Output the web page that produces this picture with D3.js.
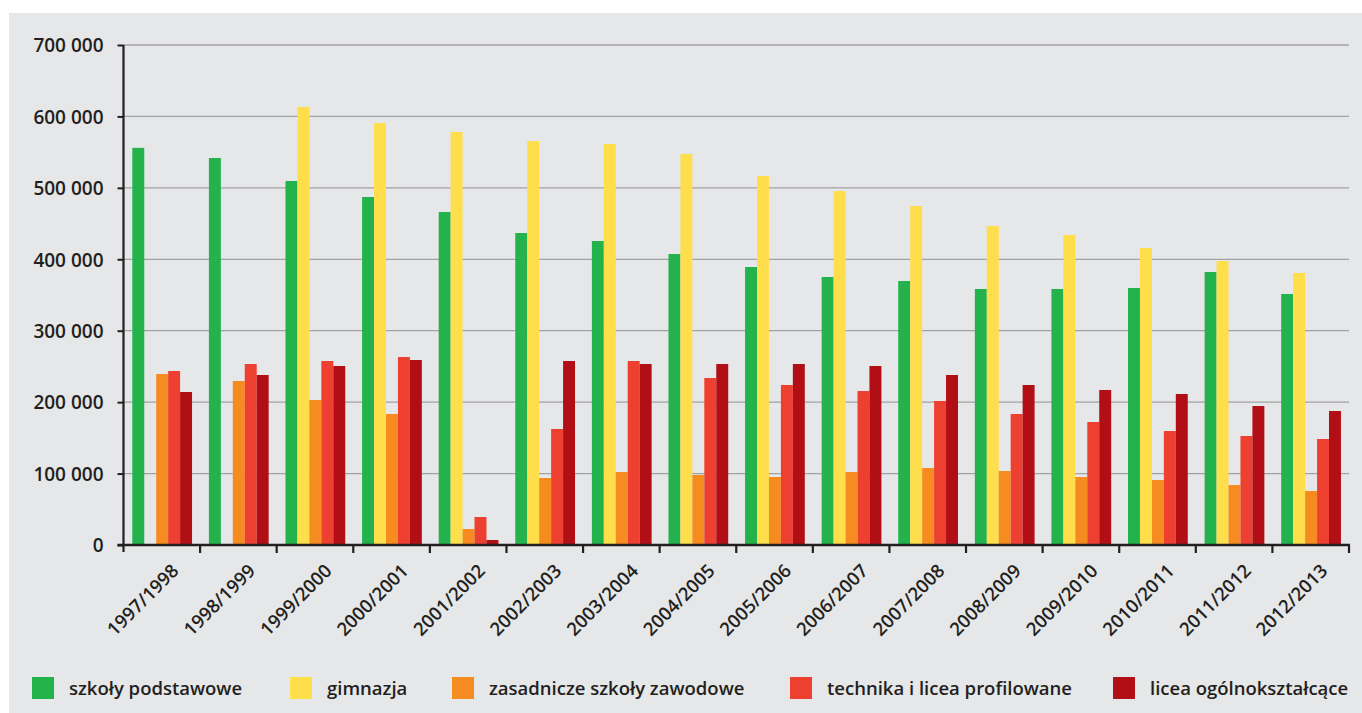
<!DOCTYPE html>
<html><head><meta charset="utf-8">
<script src="https://cdn.jsdelivr.net/npm/d3@7"></script>
<style>html,body{margin:0;padding:0;background:#fff;overflow:hidden}</style>
</head><body><svg id="c" width="1362" height="713"></svg>
<script>
const categories = ["1997/1998","1998/1999","1999/2000","2000/2001","2001/2002","2002/2003","2003/2004","2004/2005","2005/2006","2006/2007","2007/2008","2008/2009","2009/2010","2010/2011","2011/2012","2012/2013"];
const seriesNames = ["szkoły podstawowe","gimnazja","zasadnicze szkoły zawodowe","technika i licea profilowane","licea ogólnokształcące"];
const seriesColors = ["#23b24b","#ffde4c","#f68b1f","#ee4031","#b20e16"];
const szkolyPodstawowe = [556000,541800,509600,487200,466200,436800,425600,407400,389200,375200,369600,358400,358400,359800,382200,351400];
const gimnazja = [0,0,613200,590800,578200,565600,561400,547400,516600,495600,474600,446600,434000,415800,397600,380800];
const zasadnicze = [239400,229600,203000,183400,22400,93800,102200,98000,95200,102200,107800,103600,95200,91000,84000,75600];
const technika = [243600,253400,257600,263200,39200,162400,257600,233800,224000,215600,201600,183400,172200,159600,152600,148400];
const liceaOgolno = [214200,238000,250600,259000,7000,257600,253400,253400,253400,250600,238000,224000,217000,211400,194600,187600];
const yTicks = [0,100000,200000,300000,400000,500000,600000,700000];
const seriesValues = [szkolyPodstawowe, gimnazja, zasadnicze, technika, liceaOgolno];

(function(){
const svg = d3.select("#c");
const FONT = "'Open Sans', sans-serif";
const ink = "#231f20";
svg.append("rect").attr("x",9).attr("y",13).attr("width",1353).attr("height",700).attr("fill","#e6e7e8");

const pL = 123.5, pR = 1349, pT = 45, pB = 545;
const x = d3.scaleBand().domain(categories).range([pL, pR]).padding(0);
const xi = d3.scaleBand().domain(d3.range(seriesNames.length)).range([x.step()*0.115, x.step()*0.895]).padding(0);
const y = d3.scaleLinear().domain([0,700000]).range([pB, pT]);

svg.append("g").selectAll("line").data(yTicks.filter(d=>d>0)).join("line")
  .attr("x1",pL).attr("x2",pR).attr("y1",d=>y(d)).attr("y2",d=>y(d))
  .attr("stroke","#a2a2a4").attr("stroke-width",1.3);

const g = svg.append("g");
categories.forEach((c,ci)=>{
  seriesValues.forEach((vals,si)=>{
    const v = vals[ci];
    if(!v) return;
    g.append("rect").attr("x",x(c)+xi(si)).attr("width",xi.bandwidth())
      .attr("y",y(v)).attr("height",y(0)-y(v)).attr("fill",seriesColors[si]);
  });
});

const yAxis = d3.axisLeft(y).tickValues(yTicks).tickSize(6).tickPadding(14)
  .tickFormat(d=>d3.format(",")(d).replace(/,/g," "));
const ya = svg.append("g").attr("transform",`translate(${pL},0)`).call(yAxis);
ya.select(".domain").attr("stroke",ink).attr("stroke-width",2.2).attr("d",`M0,${pT}V${pB+7}`);
ya.selectAll(".tick line").attr("stroke",ink).attr("stroke-width",2);
ya.selectAll(".tick text").attr("fill",ink).style("font-family",FONT).style("font-weight",600).style("font-size","19px").attr("dy","0.36em");

const xa = svg.append("g").attr("transform",`translate(0,${pB})`);
xa.append("line").attr("x1",pL-6).attr("x2",pR+1).attr("y1",0).attr("y2",0).attr("stroke",ink).attr("stroke-width",2.6);
const bounds = categories.map(c=>x(c)).concat([x(categories[categories.length-1])+x.step()]);
xa.selectAll("line.t").data(bounds.slice(1)).join("line").attr("class","t")
  .attr("x1",d=>d).attr("x2",d=>d).attr("y1",0).attr("y2",8).attr("stroke",ink).attr("stroke-width",2.2);
xa.selectAll("text").data(categories).join("text")
  .attr("transform",c=>`translate(${x(c)+x.bandwidth()/2+18},${27}) rotate(-45)`)
  .attr("text-anchor","end").attr("fill",ink)
  .style("font-family",FONT).style("font-weight",600).style("font-size","18.5px")
  .text(d=>d);

const legendX = [32, 290, 452, 790, 1113];
const lg = svg.append("g");
seriesNames.forEach((n,i)=>{
  lg.append("rect").attr("x",legendX[i]).attr("y",677).attr("width",22).attr("height",22).attr("fill",seriesColors[i]);
  lg.append("text").attr("x",legendX[i]+37).attr("y",688).attr("dy","0.36em").attr("fill",ink)
    .style("font-family",FONT).style("font-weight",600).style("font-size","18.5px").text(n);
});
})();
</script></body></html>
